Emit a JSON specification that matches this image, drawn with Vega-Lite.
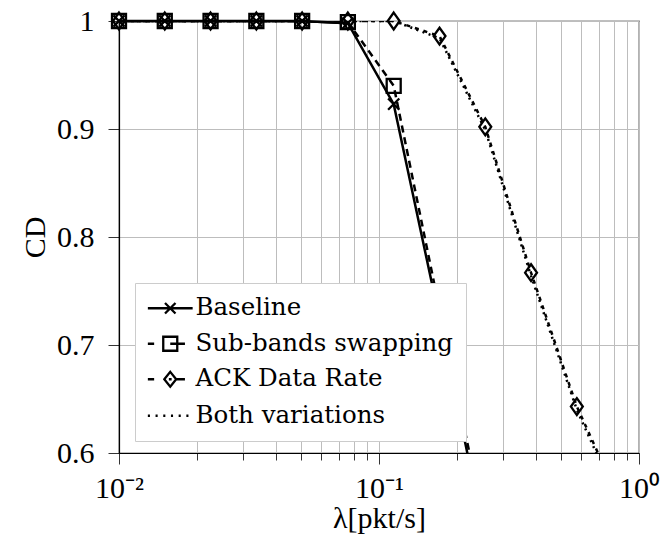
{
  "$schema": "https://vega.github.io/schema/vega-lite/v6.json",
  "width": 520,
  "height": 432,
  "autosize": {"type": "none"},
  "padding": {"left": 119, "top": 21, "right": 23, "bottom": 84},
  "background": "white",
  "config": {
    "view": {"stroke": "black", "strokeWidth": 1.2},
    "axis": {
      "domainColor": "black",
      "domainWidth": 1.2,
      "tickColor": "black",
      "tickWidth": 0.8,
      "gridColor": "#bdbdbd",
      "gridWidth": 1,
      "labelFont": "Liberation Serif",
      "labelFontSize": 30,
      "labelColor": "black",
      "titleFont": "Liberation Serif",
      "titleFontSize": 30,
      "titleFontWeight": "normal",
      "titleColor": "black",
      "labelOverlap": false,
      "labelFlush": false
    }
  },
  "data": {
    "values": [
      {"lambda": 0.01, "cd": 1, "series": "Baseline"},
      {"lambda": 0.015, "cd": 1, "series": "Baseline"},
      {"lambda": 0.0225, "cd": 1, "series": "Baseline"},
      {"lambda": 0.03375, "cd": 1, "series": "Baseline"},
      {"lambda": 0.050625, "cd": 1, "series": "Baseline"},
      {"lambda": 0.0759, "cd": 0.998, "series": "Baseline"},
      {"lambda": 0.1139, "cd": 0.923, "series": "Baseline"},
      {"lambda": 0.1709, "cd": 0.724, "series": "Baseline"},
      {"lambda": 0.2563, "cd": 0.52, "series": "Baseline"},
      {"lambda": 0.01, "cd": 1, "series": "Sub-bands swapping"},
      {"lambda": 0.015, "cd": 1, "series": "Sub-bands swapping"},
      {"lambda": 0.0225, "cd": 1, "series": "Sub-bands swapping"},
      {"lambda": 0.03375, "cd": 1, "series": "Sub-bands swapping"},
      {"lambda": 0.050625, "cd": 1, "series": "Sub-bands swapping"},
      {"lambda": 0.0759, "cd": 0.999, "series": "Sub-bands swapping"},
      {"lambda": 0.1139, "cd": 0.94, "series": "Sub-bands swapping"},
      {"lambda": 0.1709, "cd": 0.733, "series": "Sub-bands swapping"},
      {"lambda": 0.2563, "cd": 0.53, "series": "Sub-bands swapping"},
      {"lambda": 0.01, "cd": 1, "series": "ACK Data Rate"},
      {"lambda": 0.015, "cd": 1, "series": "ACK Data Rate"},
      {"lambda": 0.0225, "cd": 1, "series": "ACK Data Rate"},
      {"lambda": 0.03375, "cd": 1, "series": "ACK Data Rate"},
      {"lambda": 0.050625, "cd": 1, "series": "ACK Data Rate"},
      {"lambda": 0.0759, "cd": 1, "series": "ACK Data Rate"},
      {"lambda": 0.1139, "cd": 1, "series": "ACK Data Rate"},
      {"lambda": 0.1709, "cd": 0.986, "series": "ACK Data Rate"},
      {"lambda": 0.2563, "cd": 0.902, "series": "ACK Data Rate"},
      {"lambda": 0.3844, "cd": 0.767, "series": "ACK Data Rate"},
      {"lambda": 0.5767, "cd": 0.643, "series": "ACK Data Rate"},
      {"lambda": 0.865, "cd": 0.55, "series": "ACK Data Rate"},
      {"lambda": 0.01, "cd": 1, "series": "Both variations"},
      {"lambda": 0.015, "cd": 1, "series": "Both variations"},
      {"lambda": 0.0225, "cd": 1, "series": "Both variations"},
      {"lambda": 0.03375, "cd": 1, "series": "Both variations"},
      {"lambda": 0.050625, "cd": 1, "series": "Both variations"},
      {"lambda": 0.0759, "cd": 1, "series": "Both variations"},
      {"lambda": 0.1139, "cd": 1, "series": "Both variations"},
      {"lambda": 0.1709, "cd": 0.984, "series": "Both variations"},
      {"lambda": 0.2563, "cd": 0.899, "series": "Both variations"},
      {"lambda": 0.3844, "cd": 0.764, "series": "Both variations"},
      {"lambda": 0.5767, "cd": 0.64, "series": "Both variations"},
      {"lambda": 0.865, "cd": 0.546, "series": "Both variations"}
    ]
  },
  "encoding": {
    "x": {
      "field": "lambda",
      "type": "quantitative",
      "scale": {"type": "log", "domain": [0.01, 1], "nice": false},
      "axis": {
        "title": "λ[pkt/s]",
        "values": [0.01, 0.02, 0.03, 0.04, 0.05, 0.06, 0.07, 0.08, 0.09, 0.1, 0.2, 0.3, 0.4, 0.5, 0.6, 0.7, 0.8, 0.9, 1],
        "labelExpr": "datum.value == 0.01 ? '10⁻²' : datum.value == 0.1 ? '10⁻¹' : datum.value == 1 ? '10⁰' : ''",
        "tickSize": {"condition": {"test": "datum.value == 0.01 || datum.value == 0.1 || datum.value == 1", "value": 11}, "value": 7},
        "labelPadding": 9,
        "titlePadding": 0
      }
    },
    "y": {
      "field": "cd",
      "type": "quantitative",
      "scale": {"domain": [0.6, 1], "nice": false, "zero": false},
      "axis": {
        "title": "CD",
        "values": [0.6, 0.7, 0.8, 0.9, 1],
        "format": ".1~f",
        "tickSize": 11,
        "labelPadding": 14,
        "titlePadding": 6
      }
    },
    "color": {
      "field": "series",
      "type": "nominal",
      "scale": {
        "domain": ["Baseline", "Sub-bands swapping", "ACK Data Rate", "Both variations"],
        "range": ["black", "black", "black", "black"]
      },
      "legend": {
        "title": null,
        "orient": "none",
        "legendX": 16,
        "legendY": 262,
        "fillColor": "white",
        "strokeColor": "#cccccc",
        "padding": 13,
        "labelFont": "DejaVu Serif",
        "labelFontSize": 24.5,
        "labelColor": "black",
        "labelLimit": 400,
        "symbolSize": 196,
        "symbolStrokeWidth": 2.3,
        "symbolStrokeColor": "black",
        "symbolFillColor": "transparent",
        "rowPadding": 10.5,
        "symbolOffset": 10,
        "labelOffset": 13,
        "encode": {
          "symbols": {
            "update": {
              "shape": {"signal": "datum.value === 'Baseline' ? 'M-3.2,0L3.2,0M-0.75,-0.75L0.75,0.75M-0.75,0.75L0.75,-0.75' : datum.value === 'Sub-bands swapping' ? 'M-3.2,0L-2.3,0M-1,-1L1,-1L1,1L-1,1ZM0,0L2.1,0' : datum.value === 'ACK Data Rate' ? 'M-3.2,0L-2.3,0M0,-1.05L0.85,0L0,1.05L-0.85,0ZM-0.2,0L0.2,0M0.85,0L2.1,0' : 'M-3.2,0L-2.9,0M-2.1,0L-1.8,0M-1,0L-0.7,0M0.1,0L0.4,0M1.2,0L1.5,0M2.3,0L2.6,0'"},
              "stroke": {"value": "black"},
              "fill": {"value": "transparent"},
              "strokeWidth": {"value": 2.3},
              "opacity": {"value": 1}
            }
          }
        }
      }
    }
  },
  "layer": [
    {
      "transform": [{"filter": "datum.series === 'Baseline'"}],
      "mark": {"type": "line", "clip": true, "strokeWidth": 2.5}
    },
    {
      "transform": [{"filter": "datum.series === 'Sub-bands swapping'"}],
      "mark": {"type": "line", "clip": true, "strokeWidth": 2.5, "strokeDash": [7, 5]}
    },
    {
      "transform": [{"filter": "datum.series === 'ACK Data Rate'"}],
      "mark": {"type": "line", "clip": true, "strokeWidth": 2.5, "strokeDash": [4, 5]}
    },
    {
      "transform": [{"filter": "datum.series === 'Both variations'"}],
      "mark": {"type": "line", "clip": true, "strokeWidth": 2.5, "strokeDash": [2, 4.5]}
    },
    {
      "transform": [{"filter": "datum.series === 'Baseline' && datum.cd >= 0.99"}],
      "mark": {"type": "line", "strokeWidth": 2.5}
    },
    {
      "transform": [{"filter": "datum.cd >= 0.6 && datum.series !== 'Both variations'"}],
      "mark": {"type": "point", "filled": false, "strokeWidth": 2.3, "size": 196, "opacity": 1},
      "encoding": {
        "shape": {
          "field": "series",
          "type": "nominal",
          "scale": {
            "domain": ["Baseline", "Sub-bands swapping", "ACK Data Rate"],
            "range": ["M-0.8,-0.8L0.8,0.8M-0.8,0.8L0.8,-0.8", "M-1,-1L1,-1L1,1L-1,1Z", "M0,-1.2L0.85,0L0,1.2L-0.85,0Z"]
          },
          "legend": null
        }
      }
    }
  ]
}
